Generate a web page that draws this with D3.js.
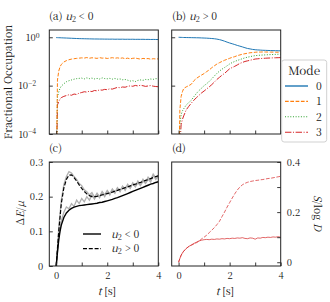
<!DOCTYPE html>
<html><head><meta charset="utf-8">
<script src="https://cdn.jsdelivr.net/npm/d3@7"></script>
<style>body{margin:0;background:#fff}svg{display:block}</style>
</head><body>
<script>
const T = [0, 0.05, 0.1, 0.15, 0.2, 0.3, 0.4, 0.5, 0.6, 0.7,
 0.8, 0.9, 1.0, 1.1, 1.2, 1.3, 1.4, 1.5, 1.6, 1.7,
 1.8, 1.9, 2.0, 2.1, 2.2, 2.3, 2.4, 2.5, 2.6, 2.7,
 2.8, 2.9, 3.0, 3.1, 3.2, 3.3, 3.4, 3.5, 3.6, 3.7,
 3.8, 3.9, 4.0];

const modes = ["0", "1", "2", "3"];

// (a) u2 < 0 fractional occupation
const a0 = [0.97, 0.965, 0.96, 0.955, 0.95, 0.94, 0.93, 0.92, 0.91, 0.9,
 0.89, 0.88, 0.875, 0.87, 0.865, 0.86, 0.855, 0.85, 0.85, 0.845,
 0.845, 0.84, 0.84, 0.835, 0.84, 0.83, 0.835, 0.83, 0.835, 0.825,
 0.83, 0.825, 0.83, 0.82, 0.825, 0.82, 0.825, 0.815, 0.82, 0.81,
 0.815, 0.81, 0.805];
const a1 = [1e-6, 0.017, 0.04, 0.06, 0.075, 0.095, 0.108, 0.118, 0.125, 0.13,
 0.134, 0.137, 0.141, 0.138, 0.145, 0.136, 0.142, 0.139, 0.134, 0.144,
 0.137, 0.14, 0.133, 0.138, 0.143, 0.136, 0.141, 0.135, 0.14, 0.13,
 0.137, 0.128, 0.135, 0.138, 0.131, 0.125, 0.134, 0.129, 0.132, 0.124,
 0.13, 0.127, 0.128];
const a2 = [1e-6, 0.0035, 0.0055, 0.0078, 0.0095, 0.012, 0.0145, 0.016, 0.0172, 0.0185,
 0.0195, 0.02, 0.0205, 0.019, 0.021, 0.0195, 0.0205, 0.019, 0.02, 0.0188,
 0.021, 0.0196, 0.0192, 0.02, 0.0186, 0.0198, 0.0185, 0.019, 0.0175, 0.018,
 0.0168, 0.0155, 0.016, 0.0148, 0.0165, 0.0172, 0.0165, 0.018, 0.0175, 0.0188,
 0.0182, 0.0195, 0.0192];
const a3 = [1e-6, 0.0016, 0.0022, 0.0028, 0.0032, 0.0036, 0.0039, 0.0042, 0.0040, 0.0045,
 0.0043, 0.0049, 0.0052, 0.0056, 0.0054, 0.0059, 0.0057, 0.0063, 0.0061, 0.0067,
 0.0065, 0.0070, 0.0068, 0.0074, 0.0072, 0.0078, 0.0085, 0.0082, 0.0088, 0.0086,
 0.0093, 0.0098, 0.0094, 0.0102, 0.0097, 0.0104, 0.0099, 0.0093, 0.0097, 0.0101,
 0.0095, 0.0092, 0.0090];

// (b) u2 > 0 fractional occupation
const b0 = [1.0, 0.995, 0.99, 0.985, 0.98, 0.975, 0.97, 0.965, 0.96, 0.955,
 0.95, 0.94, 0.93, 0.92, 0.905, 0.89, 0.87, 0.84, 0.8, 0.75,
 0.69, 0.63, 0.58, 0.54, 0.5, 0.46, 0.43, 0.4, 0.37, 0.345,
 0.33, 0.315, 0.305, 0.3, 0.295, 0.29, 0.288, 0.285, 0.283, 0.28,
 0.279, 0.277, 0.275];
const b1 = [1e-6, 0.001, 0.0036, 0.0056, 0.0076, 0.0089, 0.01, 0.0115, 0.016, 0.02,
 0.0235, 0.0275, 0.0316, 0.038, 0.0447, 0.055, 0.066, 0.078, 0.089, 0.1,
 0.112, 0.123, 0.135, 0.148, 0.158, 0.174, 0.186, 0.2, 0.209, 0.219,
 0.229, 0.234, 0.24, 0.245, 0.245, 0.247, 0.246, 0.245, 0.244, 0.243,
 0.242, 0.241, 0.24];
const b2 = [1e-6, 0.00025, 0.00063, 0.0009, 0.0011, 0.0016, 0.002, 0.0025, 0.0035, 0.0048,
 0.0063, 0.0079, 0.01, 0.012, 0.015, 0.019, 0.025, 0.032, 0.04, 0.048,
 0.056, 0.066, 0.079, 0.09, 0.1, 0.11, 0.12, 0.13, 0.141, 0.15,
 0.158, 0.167, 0.174, 0.178, 0.182, 0.185, 0.187, 0.19, 0.192, 0.194,
 0.196, 0.198, 0.2];
const b3 = [1e-6, 3e-5, 0.00025, 0.0004, 0.00056, 0.001, 0.0014, 0.0019, 0.0025, 0.0032,
 0.004, 0.005, 0.006, 0.0073, 0.0089, 0.011, 0.014, 0.018, 0.022, 0.027,
 0.032, 0.04, 0.05, 0.056, 0.063, 0.072, 0.083, 0.091, 0.1, 0.106,
 0.112, 0.119, 0.126, 0.129, 0.132, 0.134, 0.136, 0.138, 0.139, 0.141,
 0.142, 0.143, 0.145];

// (c) energy: fits and raw data
const cNegFit = [0, 0.04, 0.075, 0.1, 0.118, 0.14, 0.153, 0.161, 0.166, 0.17,
 0.172, 0.174, 0.175, 0.176, 0.177, 0.178, 0.179, 0.18, 0.181, 0.183,
 0.184, 0.186, 0.188, 0.19, 0.192, 0.195, 0.197, 0.2, 0.203, 0.206,
 0.209, 0.212, 0.215, 0.218, 0.221, 0.224, 0.227, 0.23, 0.233, 0.236,
 0.238, 0.241, 0.243];
const cPosFit = [0, 0.05, 0.1, 0.14, 0.18, 0.225, 0.25, 0.262, 0.263, 0.255,
 0.245, 0.234, 0.224, 0.215, 0.208, 0.203, 0.2, 0.2, 0.201, 0.203,
 0.205, 0.207, 0.209, 0.211, 0.213, 0.216, 0.218, 0.221, 0.223, 0.226,
 0.228, 0.231, 0.234, 0.236, 0.239, 0.241, 0.244, 0.247, 0.249, 0.252,
 0.255, 0.258, 0.26];
const cNegData = [0, 0.04, 0.08, 0.11, 0.13, 0.155, 0.17, 0.165, 0.18, 0.172,
 0.19, 0.18, 0.195, 0.185, 0.2, 0.19, 0.205, 0.193, 0.207, 0.197,
 0.212, 0.2, 0.215, 0.205, 0.22, 0.21, 0.225, 0.215, 0.23, 0.218,
 0.233, 0.224, 0.238, 0.228, 0.24, 0.232, 0.245, 0.238, 0.25, 0.242,
 0.262, 0.25, 0.258];
const cPosData = [0, 0.05, 0.11, 0.15, 0.19, 0.235, 0.258, 0.272, 0.268, 0.258,
 0.25, 0.238, 0.232, 0.22, 0.214, 0.205, 0.212, 0.198, 0.21, 0.2,
 0.215, 0.205, 0.218, 0.208, 0.222, 0.212, 0.226, 0.215, 0.23, 0.222,
 0.236, 0.225, 0.24, 0.23, 0.245, 0.236, 0.25, 0.24, 0.256, 0.248,
 0.265, 0.255, 0.262];

// (d) entropy S / log D
const dNeg = [0, 0.015, 0.028, 0.037, 0.044, 0.055, 0.063, 0.069, 0.075, 0.08,
 0.085, 0.088, 0.09, 0.091, 0.09, 0.092, 0.091, 0.093, 0.092, 0.094,
 0.093, 0.095, 0.094, 0.096, 0.095, 0.097, 0.096, 0.098, 0.095, 0.094,
 0.097, 0.096, 0.092, 0.097, 0.096, 0.099, 0.098, 0.1, 0.099, 0.101,
 0.1, 0.102, 0.1];
const dPos = [0, 0.015, 0.028, 0.037, 0.044, 0.055, 0.063, 0.068, 0.073, 0.078,
 0.084, 0.093, 0.1, 0.108, 0.118, 0.128, 0.138, 0.15, 0.163, 0.182,
 0.2, 0.22, 0.238, 0.256, 0.273, 0.288, 0.3, 0.309, 0.315, 0.319,
 0.322, 0.324, 0.326, 0.327, 0.329, 0.33, 0.332, 0.334, 0.335, 0.337,
 0.339, 0.341, 0.343];

const xTicks = [0, 1, 2, 3, 4];
const xTickLabels = ["0", "", "2", "", "4"];
const occTicks = [1, 1e-2, 1e-4];
const occTickExp = ["0", "\u22122", "\u22124"];
const eTicks = [0, 0.1, 0.2, 0.3];
const eTickLabels = ["0", "0.1", "0.2", "0.3"];
const sTicks = [0, 0.1, 0.2, 0.3, 0.4];
const sTickLabels = ["0", "", "0.2", "", "0.4"];

const modeColors = ["#1f77b4", "#ff7f0e", "#2ca02c", "#d62728"];
const modeDash = [null, "3.7,1.6", "1,1.65", "6.4,1.6,1,1.6"];

const FONT = "'Noto Serif CJK SC', 'Liberation Serif', serif";
const W = 330, H = 302;
const svg = d3.select("body").append("svg").attr("width", W).attr("height", H)
  .style("font-family", FONT);

const colL = [49.3, 158.3], colR = [171.7, 280.7];
const rowT = [30, 134], rowB = [162, 266];

const xA = d3.scaleLinear().domain([-0.27, 4]).range(colL);
const xB = d3.scaleLinear().domain([-0.27, 4]).range(colR);
const yOcc = d3.scaleLog().domain([1e-4, 2]).range([rowT[1], rowT[0]]);
const yE = d3.scaleLinear().domain([0, 0.3]).range([rowB[1], rowB[0]]);
const yS = d3.scaleLinear().domain([-0.015, 0.4]).range([rowB[1], rowB[0]]);

let clipId = 0;
function panel(xs, ys) {
  const id = "clip" + (clipId++);
  const [x0, x1] = xs.range(); const [y1, y0] = ys.range();
  svg.append("clipPath").attr("id", id).append("rect")
    .attr("x", x0).attr("y", y0).attr("width", x1 - x0).attr("height", y1 - y0);
  const g = svg.append("g");
  const plot = g.append("g").attr("clip-path", `url(#${id})`);
  return {g, plot, x0, x1, y0, y1};
}
function frame(p) {
  p.g.append("rect").attr("x", p.x0).attr("y", p.y0).attr("width", p.x1 - p.x0)
    .attr("height", p.y1 - p.y0).attr("fill", "none").attr("stroke", "#222").attr("stroke-width", 1);
}
function styleAxis(sel) {
  sel.select(".domain").remove();
  sel.attr("font-family", null).attr("font-size", null);
  sel.selectAll("line").attr("stroke", "#222").attr("stroke-width", 0.9);
  sel.selectAll("text").style("font-family", FONT).style("font-size", "9.5px").attr("fill", "#111");
}
function xAxis(p, xs, labels) {
  const ax = p.g.append("g").attr("transform", `translate(0,${p.y1})`)
    .call(d3.axisBottom(xs).tickValues(xTicks).tickSizeInner(-3.5).tickSizeOuter(0).tickPadding(6)
      .tickFormat((d, i) => labels ? xTickLabels[i] : ""));
  styleAxis(ax);
}
function lineOf(xs, ys, vals) {
  return d3.line().x((d, i) => xs(T[i])).y(d => ys(d))(vals);
}

// ---------- (a)
const pa = panel(xA, yOcc);
[a3, a2, a1, a0].forEach((s, k) => {
  const m = 3 - k;
  pa.plot.append("path").attr("d", lineOf(xA, yOcc, s)).attr("fill", "none")
    .attr("stroke", modeColors[m]).attr("stroke-width", 1).attr("stroke-dasharray", modeDash[m]);
});
frame(pa);
xAxis(pa, xA, false);
{
  const ax = pa.g.append("g").attr("transform", `translate(${pa.x0},0)`)
    .call(d3.axisLeft(yOcc).tickValues(occTicks).tickSizeInner(-3.5).tickSizeOuter(0).tickPadding(6).tickFormat(() => "10"));
  styleAxis(ax);
  ax.selectAll(".tick text").each(function(d, i) {
    const t = d3.select(this);
    t.attr("dx", -(occTickExp[i].length * 3.6));
    t.append("tspan").attr("dy", "-0.45em").style("font-size", "7px").text(occTickExp[i]);
  });
}

// ---------- (b)
const pb = panel(xB, yOcc);
[b3, b2, b1, b0].forEach((s, k) => {
  const m = 3 - k;
  pb.plot.append("path").attr("d", lineOf(xB, yOcc, s)).attr("fill", "none")
    .attr("stroke", modeColors[m]).attr("stroke-width", 1).attr("stroke-dasharray", modeDash[m]);
});
frame(pb);
xAxis(pb, xB, false);
{
  const ax = pb.g.append("g").attr("transform", `translate(${pb.x0},0)`)
    .call(d3.axisLeft(yOcc).tickValues([1, 1e-2]).tickSizeInner(-3.5).tickSizeOuter(0).tickFormat(""));
  styleAxis(ax);
}

// ---------- (c)
const pc = panel(xA, yE);
[cNegData, cPosData].forEach(s => {
  pc.plot.append("path").attr("d", lineOf(xA, yE, s)).attr("fill", "none")
    .attr("stroke", "#b0b0b0").attr("stroke-width", 1.3);
});
pc.plot.append("path").attr("d", lineOf(xA, yE, cNegFit)).attr("fill", "none")
  .attr("stroke", "#000").attr("stroke-width", 1.4);
pc.plot.append("path").attr("d", lineOf(xA, yE, cPosFit)).attr("fill", "none")
  .attr("stroke", "#000").attr("stroke-width", 1.2).attr("stroke-dasharray", "4,1.8");
frame(pc);
xAxis(pc, xA, true);
{
  const ax = pc.g.append("g").attr("transform", `translate(${pc.x0},0)`)
    .call(d3.axisLeft(yE).tickValues(eTicks).tickSizeInner(-3.5).tickSizeOuter(0).tickPadding(6)
      .tickFormat((d, i) => eTickLabels[i]));
  styleAxis(ax);
}
// legend (c)
const cLeg = [{dash: null, w: 1.4, lab: "< 0"}, {dash: "4,1.8", w: 1.2, lab: "> 0"}];
cLeg.forEach((e, i) => {
  const y = 234 + i * 14.6;
  pc.g.append("line").attr("x1", 83).attr("x2", 101).attr("y1", y).attr("y2", y)
    .attr("stroke", "#000").attr("stroke-width", e.w).attr("stroke-dasharray", e.dash);
  const t = pc.g.append("text").attr("x", 111).attr("y", y + 3.5).style("font-size", "10.5px").attr("fill", "#111");
  t.append("tspan").attr("font-style", "italic").text("u");
  t.append("tspan").style("font-size", "7.5px").attr("dy", 2).text("2");
  t.append("tspan").attr("dy", -2).text(" " + e.lab);
});

// ---------- (d)
const pd = panel(xB, yS);
pd.plot.append("path").attr("d", lineOf(xB, yS, dNeg)).attr("fill", "none")
  .attr("stroke", "#d62728").attr("stroke-opacity", 0.7).attr("stroke-width", 1);
pd.plot.append("path").attr("d", lineOf(xB, yS, dPos)).attr("fill", "none")
  .attr("stroke", "#d62728").attr("stroke-opacity", 0.7).attr("stroke-width", 1).attr("stroke-dasharray", "3.7,1.6");
frame(pd);
xAxis(pd, xB, true);
{
  const ax = pd.g.append("g").attr("transform", `translate(${pd.x1},0)`)
    .call(d3.axisRight(yS).tickValues(sTicks).tickSizeInner(-3.5).tickSizeOuter(0).tickPadding(6)
      .tickFormat((d, i) => sTickLabels[i]));
  styleAxis(ax);
}

// ---------- titles
function title(x, y, letter, op) {
  const t = svg.append("text").attr("x", x).attr("y", y).style("font-size", "10.5px").attr("fill", "#111");
  t.append("tspan").text(letter);
  if (op) {
    t.append("tspan").attr("font-style", "italic").text(" u");
    t.append("tspan").style("font-size", "7.5px").attr("dy", 2).text("2");
    t.append("tspan").attr("dy", -2).text(" " + op + " 0");
  }
}
title(49, 20, "(a)", "<");
title(172, 20, "(b)", ">");
title(49, 152, "(c)", null);
title(172, 152, "(d)", null);

// axis labels
svg.append("text").attr("transform", "translate(11.5,82) rotate(-90)").attr("text-anchor", "middle")
  .style("font-size", "10.5px").attr("fill", "#111").text("Fractional Occupation");
{
  const t = svg.append("text").attr("transform", "translate(23.5,213) rotate(-90)").attr("text-anchor", "middle")
    .style("font-size", "10.5px").attr("fill", "#111");
  t.append("tspan").text("\u0394");
  t.append("tspan").attr("font-style", "italic").text("E");
  t.append("tspan").text("/");
  t.append("tspan").attr("font-style", "italic").text("\u03bc");
}
{
  const t = svg.append("text").attr("transform", "translate(313.5,213) rotate(90)").attr("text-anchor", "middle")
    .style("font-size", "10.5px").attr("fill", "#111");
  t.append("tspan").attr("font-style", "italic").text("S");
  t.append("tspan").text("/log ");
  t.append("tspan").attr("font-style", "italic").text("D");
}
[107, 225].forEach(x => {
  const t = svg.append("text").attr("x", x).attr("y", 295).attr("text-anchor", "middle")
    .style("font-size", "10.5px").attr("fill", "#111");
  t.append("tspan").attr("font-style", "italic").text("t");
  t.append("tspan").text(" [s]");
});

// ---------- Mode legend
const leg = svg.append("g");
leg.append("rect").attr("x", 281.7).attr("y", 60).attr("width", 45).attr("height", 82).attr("rx", 2.5)
  .attr("fill", "#fff").attr("fill-opacity", 0.85).attr("stroke", "#cccccc").attr("stroke-width", 0.9);
leg.append("text").attr("x", 304.2).attr("y", 74.5).attr("text-anchor", "middle")
  .style("font-size", "11.8px").attr("fill", "#111").text("Mode");
modes.forEach((m, i) => {
  const y = 86 + i * 15.4;
  leg.append("line").attr("x1", 285).attr("x2", 308).attr("y1", y).attr("y2", y)
    .attr("stroke", modeColors[i]).attr("stroke-width", i === 0 ? 1.4 : 1.1).attr("stroke-dasharray", modeDash[i]);
  leg.append("text").attr("x", 319).attr("y", y + 3.8).attr("text-anchor", "middle")
    .style("font-size", "10.5px").attr("fill", "#111").text(m);
});
</script>
</body></html>
